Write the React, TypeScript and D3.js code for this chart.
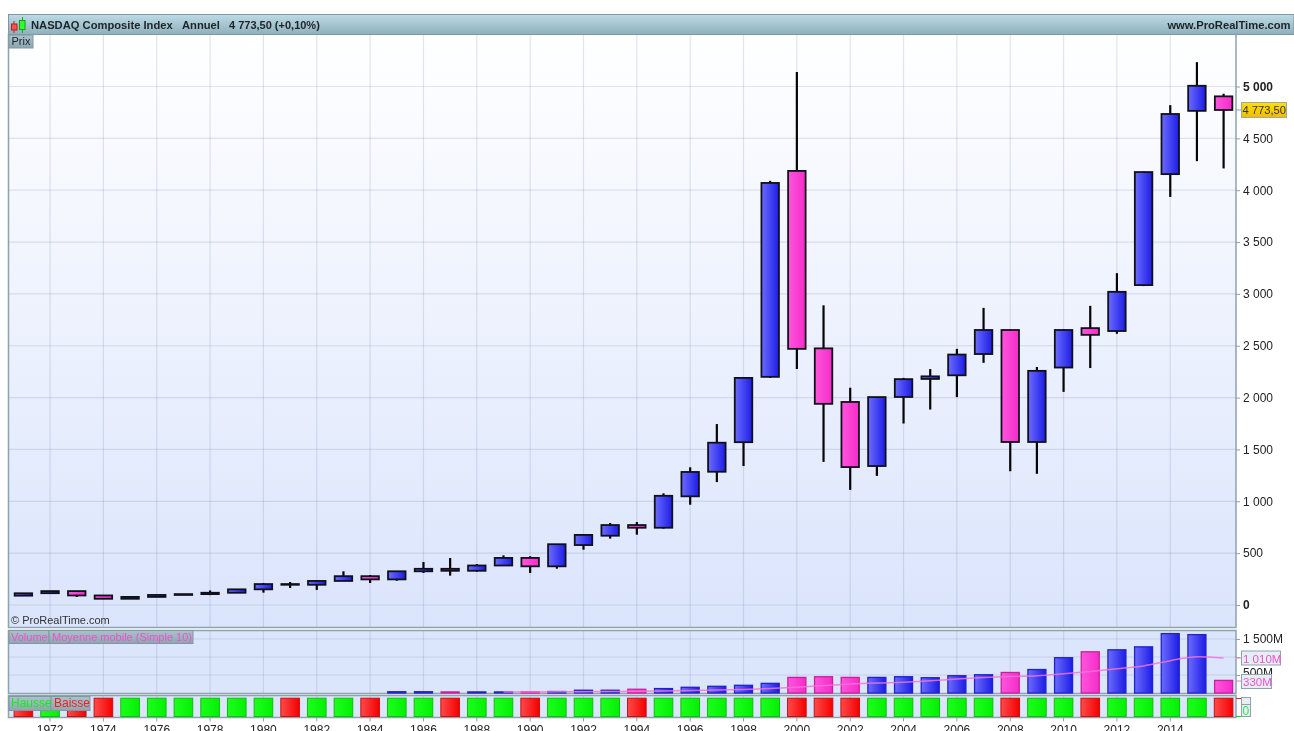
import React, { useEffect, useRef } from 'react';
import * as d3 from 'd3';

// yearly candles
const years = [1971,1972,1973,1974,1975,1976,1977,1978,1979,1980,1981,1982,1983,1984,1985,1986,1987,1988,1989,1990,1991,1992,1993,1994,1995,1996,1997,1998,1999,2000,2001,2002,2003,2004,2005,2006,2007,2008,2009,2010,2011,2012,2013,2014,2015,2016];
const opens = [90,114,134,92,60,78,97,105,118,151,202,195,232,278,247,325,349,330,381,454,373,578,668,771,745,1048,1285,1570,2200,4186,2475,1958,1340,2006,2180,2215,2420,2652,1572,2290,2670,2642,3085,4155,4765,4905];
const closes = [113,134,92,60,78,97,105,118,151,202,195,232,278,247,325,349,330,381,454,373,586,676,771,745,1053,1283,1565,2190,4070,2470,1940,1330,2005,2178,2205,2415,2652,1572,2258,2652,2605,3020,4175,4735,5007,4773.5];
const highs = [113,134,134,92,84,97,105,140,151,212,222,238,325,289,325,415,453,395,479,470,586,676,791,800,1077,1328,1745,2195,4090,5140,2890,2095,2005,2190,2275,2470,2865,2655,2295,2660,2885,3200,4180,4820,5235,4930];
const lows = [90,114,77,60,60,78,97,95,118,119,164,145,232,212,234,309,283,321,381,309,350,533,640,678,736,967,1185,1340,2190,2276,1380,1110,1245,1750,1885,2005,2335,1290,1265,2055,2285,2615,3075,3935,4280,4210];
// millions of shares, 0 = no bar
const volumes = [0,0,0,0,0,0,0,0,0,0,0,0,0,0,35,35,30,30,30,30,41,77,77,104,123,159,186,214,268,433,452,433,433,452,425,480,507,570,652,980,1145,1200,1282,1650,1622,350];
const maYears = [1989,1990,1991,1992,1993,1994,1995,1996,1997,1998,1999,2000,2001,2002,2003,2004,2005,2006,2007,2008,2009,2010,2011,2012,2013,2014,2015,2016];
const maValues = [30,30,32,36,40,48,58,72,85,100,123,160,205,252,280,298,340,390,430,460,479,534,597,671,753,899,1008,973];
// 1 = Hausse, 0 = Baisse
const hausse = [0,1,0,0,1,1,1,1,1,1,0,1,1,0,1,1,0,1,1,0,1,1,1,0,1,1,1,1,1,0,0,0,1,1,1,1,1,0,1,1,0,1,1,1,1,0];
const priceTicks = [0,500,1000,1500,2000,2500,3000,3500,4000,4500,5000];
const volumeTicks = [500,1000,1500];
const yearTicks = [1972,1974,1976,1978,1980,1982,1984,1986,1988,1990,1992,1994,1996,1998,2000,2002,2004,2006,2008,2010,2012,2014];

const W = 1294, H = 731;
const left = 8.5, plotRight = 1236;
const fontName = '"Liberation Sans", Arial, sans-serif';
const gridColor = 'rgba(105,115,165,0.19)';
const frFormat = d3.formatLocale({ decimal: ',', thousands: ' ', grouping: [3], currency: ['', ''] }).format(',');

export default function App() {
  const ref = useRef<SVGSVGElement>(null);

  useEffect(() => {
    const svg = d3.select(ref.current);
    svg.selectAll('*').remove();
    const defs = svg.append('defs');

    const addGrad = (id: string, c0: string, c1: string, vertical = false) => {
      const g = defs.append('linearGradient').attr('id', id)
        .attr('x1', 0).attr('y1', 0).attr('x2', vertical ? 0 : 1).attr('y2', vertical ? 1 : 0);
      g.append('stop').attr('offset', 0).attr('stop-color', c0);
      g.append('stop').attr('offset', 1).attr('stop-color', c1);
    };
    addGrad('blueBar', '#6c6cff', '#1c1ce6');
    addGrad('pinkBar', '#ff55de', '#f52cc8');
    addGrad('redBar', '#ff4a4a', '#f50000');
    addGrad('greenBar', '#1cff1c', '#04f004');
    addGrad('priceBg', '#ffffff', '#dae4fc', true);
    addGrad('titleBg', '#bcdbe6', '#8fafbb', true);
    addGrad('boxBg', '#a9c2cb', '#8ea6b0', true);
    addGrad('yellowBg', '#ffe000', '#f2bc00', true);

    const x = d3.scaleLinear().domain([1971, 2016]).range([23.4, 1223.6]);
    const yPrice = d3.scaleLinear().domain([0, 5000]).range([605, 86.5]);
    const yVol = d3.scaleLinear().domain([0, 1500]).range([693, 639]);

    // panels
    const panel = (y0: number, y1: number, fill: string) =>
      svg.append('rect').attr('x', left).attr('y', y0).attr('width', plotRight - left).attr('height', y1 - y0)
        .attr('fill', fill).attr('stroke', '#8da3ad').attr('stroke-width', 1.5);
    panel(34, 627.5, 'url(#priceBg)');
    panel(630.5, 693.5, '#dbe5fb');
    panel(695.5, 717.5, '#dbe5fb');

    // vertical grid in each panel
    const vGrid = (y0: number, y1: number) =>
      svg.append('g').selectAll('line').data(yearTicks).join('line')
        .attr('x1', d => x(d - 1) + 26.67).attr('x2', d => x(d - 1) + 26.67)
        .attr('y1', y0).attr('y2', y1)
        .attr('stroke', gridColor).attr('stroke-width', 1.2);
    vGrid(35, 627);
    vGrid(631, 693);
    vGrid(696, 717);

    // price axis
    const priceAxis = svg.append('g').attr('transform', `translate(${plotRight},0)`)
      .call(d3.axisRight(yPrice).tickValues(priceTicks).tickSize(4).tickPadding(3).tickFormat(d => frFormat(d as number)));
    priceAxis.select('.domain').remove();
    priceAxis.selectAll('text').attr('font-family', fontName).attr('font-size', 12).attr('fill', '#222')
      .attr('font-weight', d => (d === 5000 || d === 0 ? 'bold' : 'normal'));
    priceAxis.selectAll('line').attr('stroke', '#8da3ad');
    svg.append('g').selectAll('line').data(priceTicks).join('line')
      .attr('x1', left).attr('x2', plotRight)
      .attr('y1', d => yPrice(d)).attr('y2', d => yPrice(d))
      .attr('stroke', gridColor).attr('stroke-width', 1.2);

    // volume grid + axis
    svg.append('g').selectAll('line').data(volumeTicks).join('line')
      .attr('x1', left).attr('x2', plotRight)
      .attr('y1', d => yVol(d)).attr('y2', d => yVol(d))
      .attr('stroke', gridColor).attr('stroke-width', 1.2);
    const volAxis = svg.append('g').attr('transform', `translate(${plotRight},0)`)
      .call(d3.axisRight(yVol).tickValues(volumeTicks).tickSize(4).tickPadding(3).tickFormat(d => (d === 1000 ? '' : frFormat(d as number) + 'M')));
    volAxis.select('.domain').remove();
    volAxis.selectAll('text').attr('font-family', fontName).attr('font-size', 12).attr('fill', '#222')
      .attr('dy', (d: any) => (d === 500 ? '0.15em' : '0.32em'));
    volAxis.selectAll('line').attr('stroke', '#8da3ad');

    // candles
    const w = 17.5;
    svg.append('g').selectAll('line').data(years).join('line')
      .attr('x1', d => x(d)).attr('x2', d => x(d))
      .attr('y1', (_, i) => yPrice(highs[i])).attr('y2', (_, i) => yPrice(lows[i]))
      .attr('stroke', '#050505').attr('stroke-width', 2.2);
    svg.append('g').selectAll('rect').data(years).join('rect')
      .attr('x', d => x(d) - w / 2).attr('width', w)
      .attr('y', (_, i) => yPrice(Math.max(opens[i], closes[i])))
      .attr('height', (_, i) => Math.abs(yPrice(opens[i]) - yPrice(closes[i])))
      .attr('fill', (_, i) => (closes[i] >= opens[i] ? 'url(#blueBar)' : 'url(#pinkBar)'))
      .attr('stroke', '#10101a').attr('stroke-width', 1.8);

    // volume bars
    const volYears = years.filter((_, i) => volumes[i] > 0);
    const volOf = (d: number) => volumes[years.indexOf(d)];
    const upOf = (d: number) => hausse[years.indexOf(d)] === 1;
    svg.append('g').selectAll('rect').data(volYears).join('rect')
      .attr('x', d => x(d) - 9).attr('width', 18)
      .attr('y', d => yVol(volOf(d))).attr('height', d => yVol(0) - yVol(volOf(d)))
      .attr('fill', d => (upOf(d) ? 'url(#blueBar)' : 'url(#pinkBar)'))
      .attr('stroke', d => (upOf(d) ? '#2222c8' : '#c9209f')).attr('stroke-width', 1.3);

    const ma = d3.line<number>().x(d => x(d)).y((_, i) => yVol(maValues[i])).curve(d3.curveMonotoneX);
    svg.append('path').attr('d', ma(maYears)).attr('fill', 'none')
      .attr('stroke', '#f472d8').attr('stroke-opacity', 0.85).attr('stroke-width', 1.5);

    // hausse / baisse squares
    svg.append('g').selectAll('rect').data(years).join('rect')
      .attr('x', d => x(d) - 9.3).attr('width', 18.6).attr('y', 698.2).attr('height', 18.3)
      .attr('fill', (_, i) => (hausse[i] ? 'url(#greenBar)' : 'url(#redBar)'))
      .attr('stroke', (_, i) => (hausse[i] ? '#0cc00c' : '#c81010')).attr('stroke-width', 1);

    // year axis
    const yearAxis = svg.append('g').attr('transform', 'translate(0,717.5)')
      .call(d3.axisBottom(x).tickValues(yearTicks).tickSize(4).tickPadding(3).tickFormat(d3.format('d')));
    yearAxis.select('.domain').remove();
    yearAxis.selectAll('g.tick').attr('transform', (d: any) => `translate(${x(d - 1) + 26.67},0)`);
    yearAxis.selectAll('text').attr('font-family', fontName).attr('font-size', 12).attr('fill', '#222').attr('y', 8);
    yearAxis.selectAll('line').attr('stroke', '#8da3ad');

    // title bar
    svg.append('rect').attr('x', left).attr('y', 14.5).attr('width', W - left).attr('height', 20)
      .attr('fill', 'url(#titleBg)').attr('stroke', '#7d98a3').attr('stroke-width', 1);
    svg.append('line').attr('x1', 14).attr('x2', 14).attr('y1', 21).attr('y2', 33).attr('stroke', '#c02020');
    svg.append('rect').attr('x', 11.5).attr('y', 24).attr('width', 5.5).attr('height', 6).attr('fill', '#ff5050').attr('stroke', '#b02020');
    svg.append('line').attr('x1', 22.5).attr('x2', 22.5).attr('y1', 17).attr('y2', 33).attr('stroke', '#10b010');
    svg.append('rect').attr('x', 19.5).attr('y', 20.5).attr('width', 5.5).attr('height', 9).attr('fill', '#30ff30').attr('stroke', '#10a010');

    const label = (tx: number, ty: number, s: string, size: number, fill: string, bold = false, anchor = 'start') =>
      svg.append('text').attr('x', tx).attr('y', ty).text(s)
        .attr('font-family', fontName).attr('font-size', size).attr('fill', fill)
        .attr('font-weight', bold ? 'bold' : 'normal').attr('text-anchor', anchor);

    label(31, 28.5, 'NASDAQ Composite Index', 11.2, '#1c2428', true);
    label(182, 28.5, 'Annuel', 11.2, '#1c2428', true);
    label(229, 28.5, '4 773,50 (+0,10%)', 11, '#1c2428', true);
    label(1290.5, 28.5, 'www.ProRealTime.com', 11.2, '#1c2428', true, 'end');

    const box = (bx: number, by: number, bw: number, bh: number, fill = 'url(#boxBg)', stroke = '#7f98a3') =>
      svg.append('rect').attr('x', bx).attr('y', by).attr('width', bw).attr('height', bh)
        .attr('fill', fill).attr('stroke', stroke).attr('stroke-width', 1);

    box(9, 35, 24, 13);
    label(11.5, 45, 'Prix', 11, '#1c2428');
    label(11, 624, '© ProRealTime.com', 11, '#333');

    box(9, 630.5, 40, 13);
    box(49, 630.5, 144, 13);
    label(11, 640.5, 'Volume', 11, '#f050d0');
    label(52, 640.5, 'Moyenne mobile (Simple 10)', 11, '#f050d0');

    box(9, 696.5, 42, 14);
    box(51, 696.5, 39, 14);
    label(11, 706.5, 'Hausse', 12, '#10f010');
    label(54, 706.5, 'Baisse', 12, '#f02020');

    // current value tags
    svg.append('line').attr('x1', plotRight).attr('x2', 1242).attr('y1', yPrice(4773.5)).attr('y2', yPrice(4773.5)).attr('stroke', '#8da3ad');
    box(1241.5, 102.5, 45, 15, 'url(#yellowBg)', '#9aa8a8');
    label(1242.5, 114, '4 773,50', 11.2, '#333');

    svg.append('line').attr('x1', plotRight).attr('x2', 1242).attr('y1', 658).attr('y2', 658).attr('stroke', '#f472d8');
    box(1241.5, 651, 39, 14, '#e6eef4', '#8da3ad');
    label(1243, 662.5, '1 010M', 11.5, '#f050d0');
    svg.append('line').attr('x1', plotRight).attr('x2', 1242).attr('y1', 681).attr('y2', 681).attr('stroke', '#f472d8');
    box(1241.5, 674.5, 30, 14, '#e6eef4', '#8da3ad');
    label(1243, 685.5, '330M', 11.5, '#f050d0');

    // hausse panel scale tags
    svg.append('line').attr('x1', plotRight).attr('x2', 1241).attr('y1', 698.5).attr('y2', 698.5).attr('stroke', '#f02020');
    svg.append('line').attr('x1', plotRight).attr('x2', 1241).attr('y1', 716.5).attr('y2', 716.5).attr('stroke', '#10e010');
    box(1241.5, 697.5, 9, 7, '#e6eef4', '#8da3ad');
    box(1241.5, 704.5, 9, 12, '#e6eef4', '#8da3ad');
    label(1242.5, 714.5, '0', 12, '#30e850');
  }, []);

  return <svg ref={ref} width={W} height={H} style={{ position: 'fixed', left: 0, top: 0, background: '#fff', filter: 'blur(0.35px)' }} />;
}
